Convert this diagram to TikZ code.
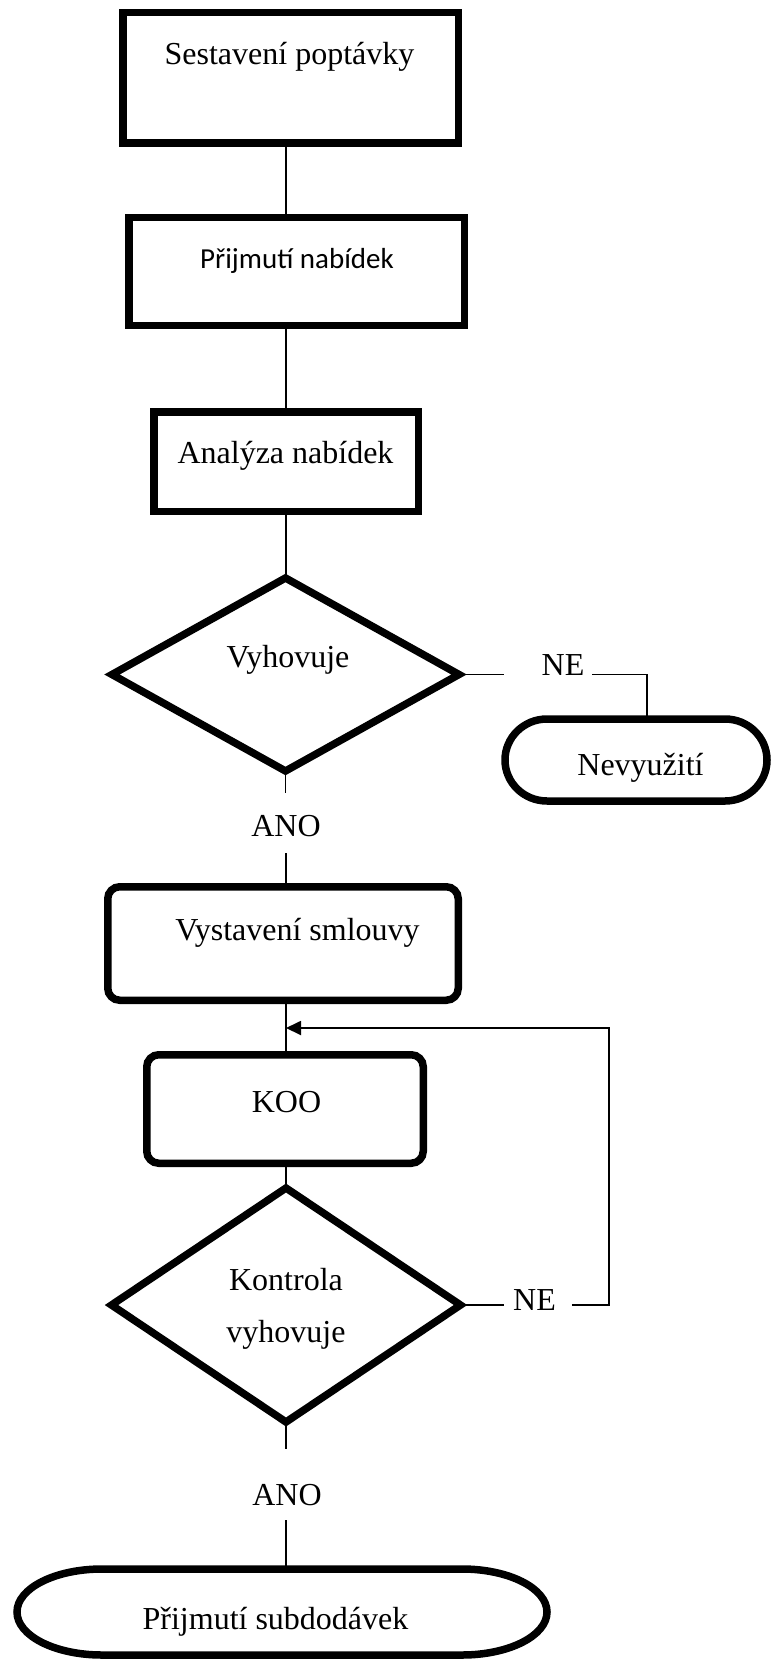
\documentclass[tikz,border=0pt]{standalone}
\usepackage{fontspec}
\setmainfont{Liberation Serif}
\newfontfamily\sansbody{Carlito}
\usetikzlibrary{shapes.geometric,arrows.meta,calc}

% outline of a flowchart terminator: straight top and bottom, elliptic ends
\newcommand\drawterminal[3]{%
  \draw[heavy] ($(#1.north west)+(#2,0)$) -- ($(#1.north east)+(-#2,0)$)
    arc[start angle=90,end angle=-90,x radius=#2,y radius=#3]
    -- ($(#1.south west)+(#2,0)$)
    arc[start angle=270,end angle=90,x radius=#2,y radius=#3] -- cycle;}

\begin{document}
\begin{tikzpicture}[x=1pt,y=1pt,
  heavy/.style={line width=7.5pt, draw=black, line join=miter},
  wire/.style={line width=1.8pt, draw=black},
  txt/.style={font=\fontsize{32}{38}\selectfont, inner sep=0pt, outer sep=0pt},
  sanstxt/.style={font=\sansbody\fontsize{29}{35}\selectfont, inner sep=0pt, outer sep=0pt},
  stepbox/.style={heavy, rectangle, inner sep=0pt, outer sep=0pt},
  roundbox/.style={heavy, rectangle, rounded corners=12pt, inner sep=0pt, outer sep=0pt},
  decision/.style={heavy, diamond, inner sep=0pt, outer sep=0pt},
  terminal/.style={rectangle, inner sep=0pt, outer sep=0pt},
  tip/.style={-{Triangle[length=15pt,width=14pt]}}
]
\useasboundingbox (0,0) rectangle (772,-1661);

\coordinate (spine) at (286,0);
\coordinate (k1) at (647,0);
\coordinate (back) at (609,-1028);

% process boxes
\node[stepbox, minimum width=335.5pt, minimum height=130.5pt,
  label={[txt,anchor=base,xshift=-1pt,yshift=21pt]center:Sestavení poptávky}] (b1) at (290.5,-78) {};
\node[stepbox, minimum width=335.5pt, minimum height=107.5pt,
  label={[sanstxt,anchor=base,xshift=0.5pt,yshift=10.5pt]center:Přijmutí nabídek}] (b2) at (296.5,-271.5) {};
\node[stepbox, minimum width=264.5pt, minimum height=99.5pt,
  label={[txt,anchor=base,xshift=-0.5pt,yshift=5.5pt]center:Analýza nabídek}] (b3) at (286,-461.5) {};

% first decision
\node[decision, minimum width=347pt, minimum height=193pt,
  label={[txt,anchor=base,xshift=2.5pt,yshift=14.5pt]center:Vyhovuje}] (d1) at (285.5,-674.5) {};
\node[txt, anchor=base] (ano1) at (286,-836) {ANO};
\node[txt, anchor=base] (ne1) at (563,-675) {NE};
\node[terminal, minimum width=262pt, minimum height=82pt,
  label={[txt,anchor=base,xshift=4.5pt,yshift=-8pt]center:Nevyužití}] (n1) at (636,-760) {};
\drawterminal{n1}{42}{41}

% contract and check
\node[roundbox, minimum width=350.5pt, minimum height=113.5pt,
  label={[txt,anchor=base,xshift=14.5pt,yshift=10.5pt]center:Vystavení smlouvy}] (b4) at (283,-943.5) {};
\node[roundbox, minimum width=276.5pt, minimum height=108.5pt,
  label={[txt,anchor=base,xshift=1.5pt,yshift=7pt]center:KOO}] (b5) at (285,-1109) {};

% second decision
\node[decision, minimum width=349pt, minimum height=234pt,
  label={[txt,anchor=base,yshift=25pt]center:Kontrola},
  label={[txt,anchor=base,yshift=-30pt]center:vyhovuje}] (d2) at (286,-1305) {};
\node[txt, anchor=base] (ne2) at (534.5,-1310) {NE};
\node[txt, anchor=base] (ano2) at (287,-1505) {ANO};
\node[terminal, minimum width=530pt, minimum height=86pt,
  label={[txt,anchor=base,xshift=-6.5pt,yshift=-10pt]center:Přijmutí subdodávek}] (t2) at (282,-1612) {};
\drawterminal{t2}{85}{43}

% connectors
\draw[wire] (b1.south -| spine) -- (b2.north -| spine);
\draw[wire] (b2.south -| spine) -- (b3.north -| spine);
\draw[wire] (b3.south -| spine) -- (d1.north -| spine);
\draw[wire, shorten >=22pt] (d1.south) -- (ano1.north -| d1.south);
\draw[wire, shorten <=17pt] (ano1.south -| spine) -- (b4.north -| spine);
\draw[wire, shorten >=38pt] (d1.east) -- (ne1.west |- d1.east);
\draw[wire, shorten <=8pt] (ne1.east |- d1.east) -- (k1 |- d1.east) -- (k1 |- n1.north);

\draw[wire] (b4.south -| spine) -- (b5.north -| spine);
\draw[wire] (b5.south -| spine) -- (d2.north -| spine);
\draw[wire, shorten >=9pt] (d2.east) -- (ne2.west |- d2.east);
\draw[wire, tip, shorten <=16pt] (ne2.east |- d2.east) -- (back |- d2.east) -- (back) -- (back -| spine);
\draw[wire, shorten >=35pt] (d2.south) -- (ano2.north -| d2.south);
\draw[wire, shorten <=15pt] (ano2.south -| spine) -- (t2.north -| spine);
\end{tikzpicture}
\end{document}
